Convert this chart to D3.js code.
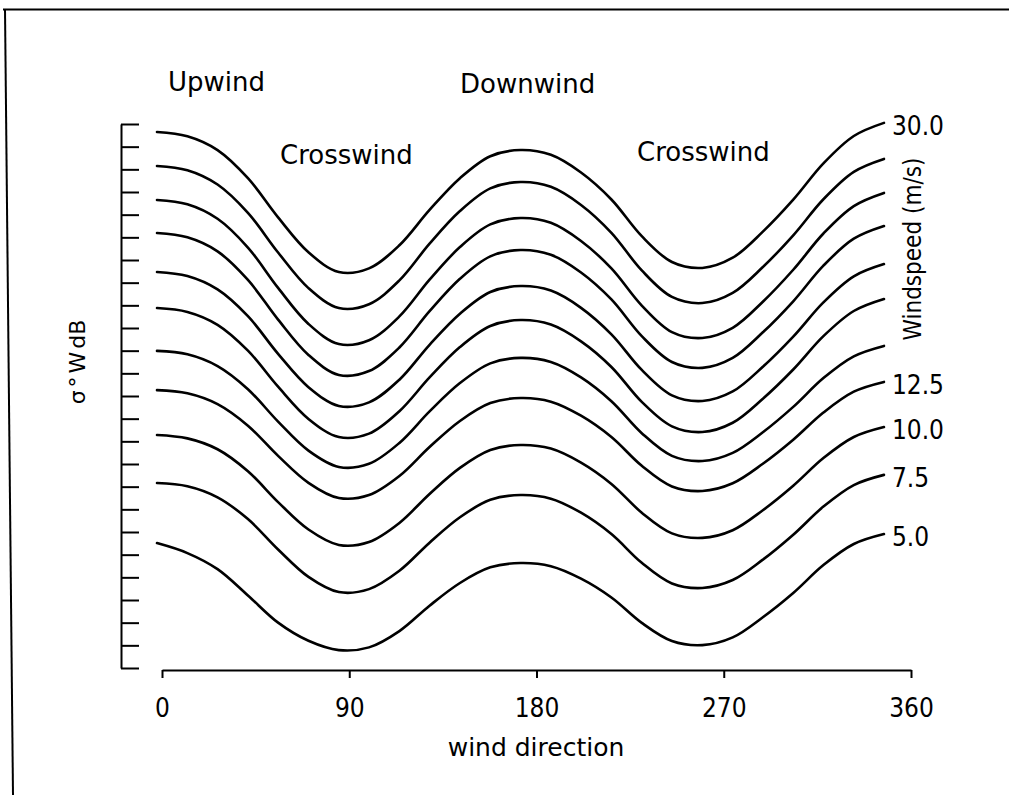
<!DOCTYPE html>
<html>
<head>
<meta charset="utf-8">
<script src="https://cdn.jsdelivr.net/npm/d3@7"></script>
<style>
  html, body { margin: 0; padding: 0; background: #fff; }
  svg { display: block; }
  text { font-family: "DejaVu Sans", "Liberation Sans", sans-serif; fill: #000; }
</style>
</head>
<body>
<svg id="chart" width="1009" height="795"></svg>
<script>
// ---- data (directions as read against the x axis) ----
const directions = [-2.4, 12.2, 26.7, 41.3, 55.8, 70.4, 85.0, 99.5, 114.1, 128.6, 143.2, 157.8, 172.3, 186.9, 201.4, 216.0, 230.6, 245.1, 259.7, 274.3, 288.8, 303.4, 317.9, 332.5, 347.0];
const windspeeds = ["30.0", "27.5", "25.0", "22.5", "20.0", "17.5", "15.0", "12.5", "10.0", "7.5", "5.0"];
const labelledSpeeds = ["30.0", "12.5", "10.0", "7.5", "5.0"];
const xTicks = [0, 90, 180, 270, 360];
const yTicks = [0,1,2,3,4,5,6,7,8,9,10,11,12,13,14,15,16,17,18,19,20,21,22,23,24];

const ws30_0 = [23.65,23.46,22.85,21.61,19.88,18.34,17.47,17.63,18.65,20.21,21.61,22.58,22.85,22.64,21.86,20.67,19.05,17.91,17.65,18.10,19.25,20.66,22.26,23.47,24.05];
const ws27_5 = [22.15,21.96,21.33,20.08,18.33,16.76,15.88,16.05,17.10,18.72,20.16,21.16,21.44,21.23,20.43,19.20,17.54,16.37,16.10,16.55,17.69,19.09,20.68,21.89,22.46];
const ws25_0 = [20.65,20.46,19.82,18.55,16.77,15.18,14.29,14.46,15.51,17.13,18.57,19.57,19.85,19.64,18.84,17.63,15.99,14.82,14.56,15.01,16.16,17.57,19.17,20.38,20.96];
const ws22_5 = [19.19,19.00,18.38,17.12,15.37,13.81,12.93,13.10,14.14,15.74,17.17,18.16,18.44,18.23,17.45,16.26,14.64,13.50,13.24,13.68,14.81,16.18,17.75,18.94,19.50];
const ws20_0 = [17.47,17.29,16.70,15.52,13.86,12.39,11.56,11.72,12.72,14.26,15.63,16.59,16.85,16.65,15.89,14.72,13.15,12.03,11.78,12.20,13.29,14.62,16.13,17.28,17.82];
const ws17_5 = [15.88,15.71,15.14,14.00,12.41,10.99,10.19,10.34,11.33,12.82,14.16,15.09,15.35,15.15,14.41,13.28,11.74,10.66,10.41,10.82,11.88,13.17,14.64,15.75,16.28];
const ws15_0 = [13.99,13.84,13.32,12.30,10.87,9.59,8.87,9.01,9.93,11.32,12.57,13.44,13.68,13.50,12.82,11.77,10.36,9.36,9.13,9.49,10.40,11.52,12.79,13.75,14.21];
const ws12_5 = [12.26,12.12,11.64,10.69,9.36,8.17,7.50,7.63,8.47,9.75,10.90,11.69,11.91,11.75,11.13,10.19,8.92,8.01,7.81,8.15,9.01,10.07,11.27,12.19,12.62];
const ws10_0 = [10.28,10.13,9.65,8.68,7.32,6.11,5.43,5.56,6.40,7.68,8.83,9.62,9.84,9.68,9.06,8.12,6.85,5.94,5.74,6.08,6.96,8.04,9.26,10.19,10.63];
const ws7_5  = [8.16,8.02,7.53,6.57,5.23,4.02,3.35,3.48,4.29,5.53,6.65,7.42,7.63,7.47,6.85,5.91,4.64,3.73,3.53,3.88,4.78,5.88,7.12,8.07,8.52];
const ws5_0  = [5.51,5.07,4.36,3.20,2.00,1.20,0.79,0.91,1.63,2.75,3.75,4.44,4.63,4.49,3.94,3.11,1.99,1.19,1.01,1.35,2.24,3.31,4.54,5.47,5.91];

const seriesValues = [ws30_0, ws27_5, ws25_0, ws22_5, ws20_0, ws17_5, ws15_0, ws12_5, ws10_0, ws7_5, ws5_0];

// ---- drawing ----
const svg = d3.select("#chart");

// scanned page frame
svg.append("path")
  .attr("d", "M3,9.5 L1009,9.5")
  .attr("stroke", "#000").attr("stroke-width", 2).attr("fill", "none");
svg.append("path")
  .attr("d", "M5,9 L13,795")
  .attr("stroke", "#000").attr("stroke-width", 2).attr("fill", "none");

const x = d3.scaleLinear().domain([0, 360]).range([162, 911]);
const y = d3.scaleLinear().domain([0, 24]).range([668, 124]);

// y axis (no labels)
const yAxis = d3.axisRight(y).tickValues(yTicks).tickSize(18).tickSizeOuter(0).tickFormat("");
const gy = svg.append("g").attr("transform", "translate(121,0)").call(yAxis);
gy.selectAll("path, line").attr("stroke", "#000").attr("stroke-width", 2);

// x axis
const xAxis = d3.axisBottom(x).tickValues(xTicks).tickSize(8).tickSizeOuter(0).tickPadding(21);
const gx = svg.append("g").attr("transform", "translate(0,670)").call(xAxis);
gx.selectAll("path, line").attr("stroke", "#000").attr("stroke-width", 2);
gx.selectAll("text")
  .attr("fill", "#000")
  .style("font-family", "'DejaVu Sans Condensed', 'DejaVu Sans', sans-serif")
  .style("font-size", "26px");

// curves
const line = d3.line()
  .x((d, i) => x(directions[i]))
  .y(d => y(d))
  .curve(d3.curveCatmullRom.alpha(0.5));

svg.append("g").selectAll("path")
  .data(seriesValues)
  .join("path")
  .attr("d", d => line(d))
  .attr("fill", "none")
  .attr("stroke", "#000")
  .attr("stroke-width", 2.6)
  .attr("stroke-linecap", "round");

// windspeed labels at the right end of curves
const last = directions.length - 1;
svg.append("g").selectAll("text")
  .data(windspeeds.map((w, i) => ({ w, v: seriesValues[i][last] })).filter(d => labelledSpeeds.includes(d.w)))
  .join("text")
  .attr("x", d => x(directions[last]) + 8)
  .attr("y", d => y(d.v) + 12)
  .style("font-family", "'DejaVu Sans Condensed', 'DejaVu Sans', sans-serif")
  .style("font-size", "26px")
  .text(d => d.w);

svg.append("text")
  .attr("transform", "translate(921,249) rotate(-90)")
  .attr("text-anchor", "middle")
  .style("font-family", "'DejaVu Sans Condensed', 'DejaVu Sans', sans-serif")
  .style("font-size", "24px")
  .text("Windspeed (m/s)");

// region annotations
const notes = [
  { t: "Upwind", x: 168, y: 91 },
  { t: "Downwind", x: 460, y: 93 },
  { t: "Crosswind", x: 280, y: 164 },
  { t: "Crosswind", x: 637, y: 161 }
];
svg.append("g").selectAll("text")
  .data(notes)
  .join("text")
  .attr("x", d => d.x)
  .attr("y", d => d.y)
  .style("font-size", "26px")
  .text(d => d.t);

// axis titles
svg.append("text")
  .attr("x", 536).attr("y", 756)
  .attr("text-anchor", "middle")
  .style("font-size", "25px")
  .text("wind direction");

svg.append("text")
  .attr("transform", "translate(85,362) rotate(-90)")
  .attr("text-anchor", "middle")
  .style("font-size", "22px")
  .style("word-spacing", "-4px")
  .text("σ ° W dB");
</script>
</body>
</html>
